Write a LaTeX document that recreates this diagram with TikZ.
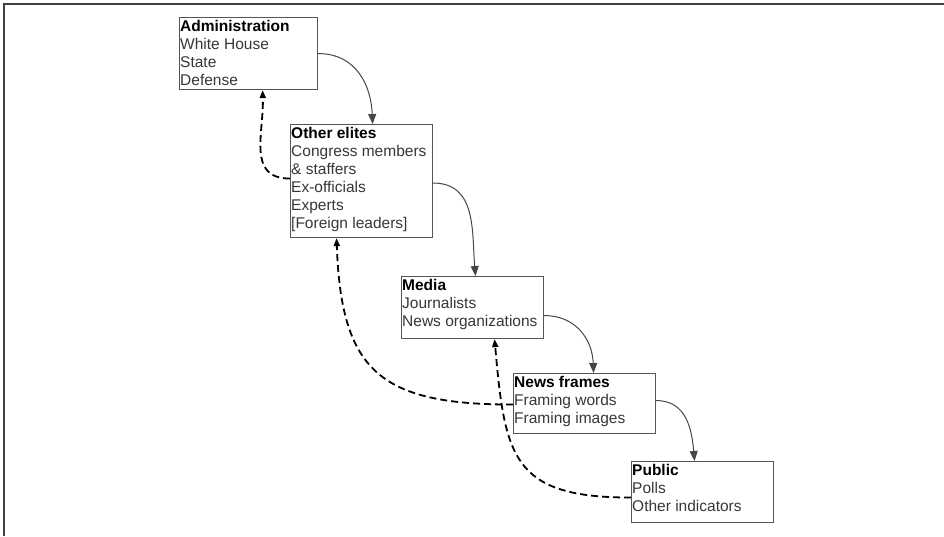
\documentclass[tikz,border=0pt]{standalone}
\usepackage{fontspec}
\setmainfont{Liberation Sans}
\usetikzlibrary{arrows.meta,calc}
\definecolor{boxline}{RGB}{85,85,85}
\definecolor{bodytext}{RGB}{55,55,55}
\definecolor{solidline}{RGB}{70,70,70}
\tikzset{
  box/.style={draw=boxline, line width=1.1pt, rectangle, inner sep=0pt, anchor=north west, fill=white},
  boxtext/.style={anchor=north west, inner sep=0pt, align=left, text=bodytext,
    font=\fontsize{15.5}{18}\selectfont},
  flow/.style={draw=solidline, line width=1pt, -{Triangle[length=10pt,width=8pt]}},
  feedback/.style={draw=black, line width=1.8pt, dash pattern=on 7pt off 4pt,
    -{Triangle[length=8pt,width=6pt]}},
  frameline/.style={draw=black!75, line width=1.5pt}
}
\newcommand{\hd}[1]{\textcolor{black}{\textbf{#1}}}
\begin{document}
\begin{tikzpicture}[x=1pt,y=1pt]
\useasboundingbox (0,0) rectangle (944,-536);
% frame (top and left only)
\coordinate (ftl) at (4,-4);
\coordinate (ftr) at (944,-4);
\coordinate (fbl) at (4,-536);
\draw[frameline] (ftr) -- (ftl) -- (fbl);

% boxes
\node[box, minimum width=138pt, minimum height=72pt] (adm) at (179,-17) {};
\node[box, minimum width=142pt, minimum height=113pt] (oe) at (290,-124) {};
\node[box, minimum width=142pt, minimum height=62pt] (med) at (401,-276) {};
\node[box, minimum width=142pt, minimum height=60pt] (nf) at (513,-373) {};
\node[box, minimum width=142pt, minimum height=61pt] (pub) at (631,-461) {};

% texts
\node[boxtext] (admt) at ($(adm.north west)+(1,-3)$) {\hd{Administration}\\White House\\State\\Defense};
\node[boxtext] (oet) at ($(oe.north west)+(1,-3)$) {\hd{Other elites}\\Congress members\\\& staffers\\Ex-officials\\Experts\\{[}Foreign leaders{]}};
\node[boxtext] (medt) at ($(med.north west)+(1,-3)$) {\hd{Media}\\Journalists\\News organizations};
\node[boxtext] (nft) at ($(nf.north west)+(1,-3)$) {\hd{News frames}\\Framing words\\Framing images};
\node[boxtext] (pubt) at ($(pub.north west)+(1,-3)$) {\hd{Public}\\Polls\\Other indicators};

% solid flow arrows
\draw[flow] (adm.east) to[out=0,in=92,looseness=1.1] ([xshift=11pt]oe.north);
\draw[flow] ([yshift=-2pt]oe.east) to[out=0,in=95,looseness=1.1] ([xshift=3pt]med.north);
\draw[flow] ([yshift=-8pt]med.east) to[out=0,in=92,looseness=1.1] ([xshift=9pt]nf.north);
\draw[flow] ([yshift=3pt]nf.east) to[out=0,in=95,looseness=1.1] ([xshift=-8pt]pub.north);

% dashed feedback arrows
\draw[feedback] ([yshift=2.5pt]oe.west) to[out=180,in=-88,looseness=1.2] ([xshift=14pt]adm.south);
\draw[feedback] ([yshift=-1pt]nf.west) to[out=180,in=-88,looseness=1.4] ([xshift=-25pt]oe.south);
\draw[feedback] ([yshift=-5.5pt]pub.west) to[out=180,in=-85,looseness=1.45] ([xshift=22pt]med.south);
\end{tikzpicture}
\end{document}
